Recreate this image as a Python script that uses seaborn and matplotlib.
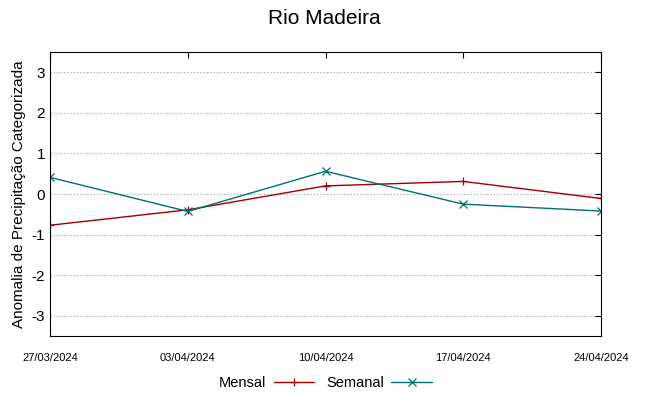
import pandas as pd
import matplotlib
matplotlib.use('Agg')
import matplotlib.pyplot as plt
import seaborn as sns

# dados
datas = ['27/03/2024', '03/04/2024', '10/04/2024', '17/04/2024', '24/04/2024']
mensal = [-0.77, -0.39, 0.20, 0.31, -0.11]
semanal = [0.41, -0.43, 0.56, -0.25, -0.42]

df = pd.DataFrame({
    'data': pd.to_datetime(datas, format='%d/%m/%Y').tolist() * 2,
    'valor': mensal + semanal,
    'serie': ['Mensal'] * len(datas) + ['Semanal'] * len(datas),
})

sns.set_style('white')
plt.rcParams['font.family'] = ['Liberation Sans', 'DejaVu Sans']
plt.rcParams['axes.unicode_minus'] = False
plt.rcParams['text.color'] = 'black'
plt.rcParams['xtick.color'] = 'black'
plt.rcParams['ytick.color'] = 'black'
plt.rcParams['axes.labelcolor'] = 'black'

fig = plt.figure(figsize=(6.49, 3.96), dpi=100)
ax = fig.add_axes([50 / 649, 1 - 336 / 396, 551 / 649, 284 / 396])

sns.lineplot(data=df, x='data', y='valor', hue='serie', style='serie',
             palette={'Mensal': '#a00000', 'Semanal': '#007070'},
             markers={'Mensal': '+', 'Semanal': 'x'}, dashes=False,
             linewidth=1, markersize=5.5, markeredgewidth=0.9, ax=ax, legend=False)

# marcadores com a cor da linha (seaborn poe borda branca)
for ln in ax.lines:
    ln.set_markeredgecolor(ln.get_color())

dt = pd.to_datetime(datas, format='%d/%m/%Y')
ax.set_xlim(dt[0], dt[-1])
ax.set_xticks(dt)
ax.set_xticklabels(datas, fontsize=8)
ax.set_ylim(-3.5, 3.5)
ax.set_yticks(range(-3, 4))
ax.tick_params(axis='y', labelsize=11)
ax.tick_params(direction='in', top=True, right=True, length=4, width=0.8, color='black')
ax.tick_params(axis='x', pad=12)
ax.yaxis.grid(True, linestyle=(0, (1, 2)), color='#999999', linewidth=0.8)
for s in ax.spines.values():
    s.set_color('black')
    s.set_linewidth(0.8)

ax.set_xlabel('')
ax.set_ylabel('Anomalia de Precipitação Categorizada', fontsize=11)
fig.text(0.5, 1 - 18 / 396, 'Rio Madeira', fontsize=15, ha='center', va='center')

ax.legend(ax.lines[:2], ['Mensal', 'Semanal'], loc='center',
          bbox_to_anchor=(0.5, -0.165), ncol=2, frameon=False,
          fontsize=10.5, markerfirst=False, handlelength=2.8, columnspacing=0.8,
          handletextpad=0.5, borderaxespad=0)

fig.savefig('out.png', dpi=100)
